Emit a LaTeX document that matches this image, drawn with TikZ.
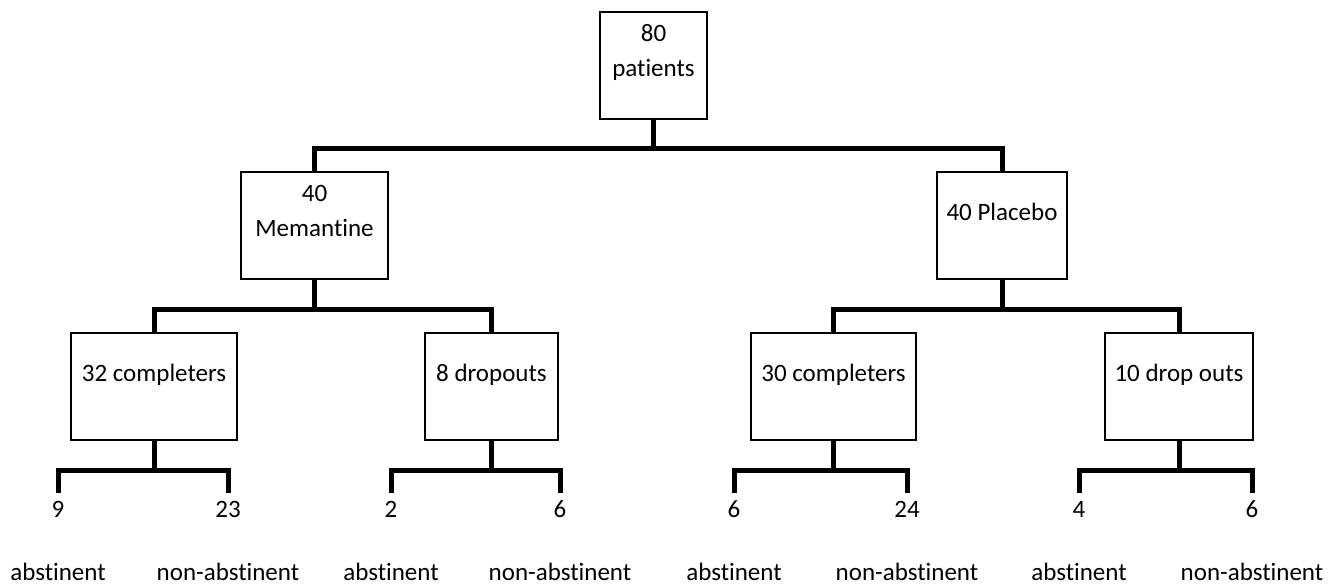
\documentclass[tikz,border=0pt]{standalone}
\usepackage{fontspec}
\setmainfont{Carlito}[Ligatures=NoCommon]
\newcommand{\boxtext}[2]{\parbox[c][53.5pt][t]{#1}{\centering #2}}
\begin{document}
\begin{tikzpicture}[x=0.5pt,y=-0.5pt,
  box/.style={draw, line width=1pt, inner sep=0pt, fill=white, font=\fontsize{12.5}{17.5}\selectfont},
  conn/.style={draw, line width=2.5pt},
  num/.style={anchor=base, inner sep=0pt, font=\fontsize{12.5}{17.5}\selectfont}]
\useasboundingbox (0,0) rectangle (1329,586);
% boxes
\node[box] (top) at (653.5,65.5) {\boxtext{53.5pt}{\rule{0pt}{14.5pt}80\\patients}};
\node[box] (mem) at (314.5,225.5) {\boxtext{73.5pt}{\rule{0pt}{14.5pt}40\\Memantine}};
\node[box] (pla) at (1002,225.5) {\boxtext{65pt}{\rule{0pt}{24pt}40 Placebo}};
\node[box] (c32) at (154,386.5) {\boxtext{83pt}{\rule{0pt}{24pt}32 completers}};
\node[box] (d8) at (491.5,386.5) {\boxtext{66.5pt}{\rule{0pt}{24pt}8 dropouts}};
\node[box] (c30) at (833.5,386.5) {\boxtext{82.5pt}{\rule{0pt}{24pt}30 completers}};
\node[box] (d10) at (1179,386.5) {\boxtext{74pt}{\rule{0pt}{24pt}10 drop outs}};
% numbers
\node[num] (n9) at (58,517.5) {9};
\node[num] (n23) at (228,517.5) {23};
\node[num] (n2) at (391,517.5) {2};
\node[num] (n6a) at (560,517.5) {6};
\node[num] (n6b) at (734,517.5) {6};
\node[num] (n24) at (907,517.5) {24};
\node[num] (n4) at (1079,517.5) {4};
\node[num] (n6c) at (1252,517.5) {6};
% labels
\foreach \x/\t/\n in {58/abstinent/l1, 228/non-abstinent/l2, 391/abstinent/l3, 560/non-abstinent/l4, 734/abstinent/l5, 907/non-abstinent/l6, 1079/abstinent/l7, 1252/non-abstinent/l8}
  \node[num] (\n) at (\x,580) {\t};
% stem ends
\foreach \n/\x in {e9/58, e23/228, e2/391, e6a/560, e6b/734, e24/907, e4/1079, e6c/1252}
  \coordinate (\n) at (\x,493);
% connectors
\draw[conn] (top.south) -- ++(0,28.5) coordinate (j0);
\draw[conn] (mem.north) |- (j0) -| (pla.north);
\draw[conn] (mem.south) -- ++(0,29) coordinate (j1);
\draw[conn] (c32.north) |- (j1) -| (d8.north);
\draw[conn] (pla.south) -- ++(0,29) coordinate (j2);
\draw[conn] (c30.north) |- (j2) -| (d10.north);
\draw[conn] (c32.south) -- ++(0,29.5) coordinate (k1);
\draw[conn] (e9) |- (k1) -| (e23);
\draw[conn] (d8.south) -- ++(0,29.5) coordinate (k2);
\draw[conn] (e2) |- (k2) -| (e6a);
\draw[conn] (c30.south) -- ++(0,29.5) coordinate (k3);
\draw[conn] (e6b) |- (k3) -| (e24);
\draw[conn] (d10.south) -- ++(0,29.5) coordinate (k4);
\draw[conn] (e4) |- (k4) -| (e6c);
\end{tikzpicture}
\end{document}
